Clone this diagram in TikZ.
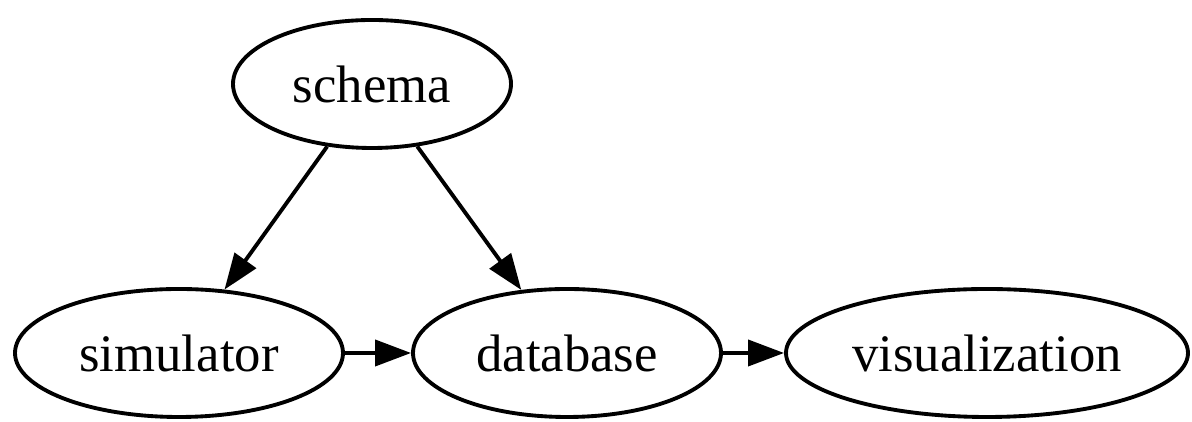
\documentclass[tikz,border=0pt]{standalone}
\usepackage{fontspec}
\setmainfont{Liberation Serif}
\usetikzlibrary{shapes.geometric,arrows.meta}

\tikzset{
    stage/.style={draw,line width=1.1pt,ellipse,inner sep=0pt,minimum height=1.28cm,
        font=\fontsize{15}{18}\selectfont},
    flow/.style={arrows={-Triangle[length=0.36cm,width=0.26cm]},line width=1.1pt}
}

\begin{document}
\begin{tikzpicture}

    \useasboundingbox (0,0) rectangle (11.92,4.22);

    \node[stage,minimum width=2.78cm] (schema) at (3.72,3.38) {schema};
    \node[stage,minimum width=3.28cm] (sim)    at (1.79,0.69) {simulator};
    \node[stage,minimum width=3.08cm] (db)     at (5.67,0.69) {database};
    \node[stage,minimum width=4.02cm] (vis)    at (9.87,0.69) {visualization};

    \draw[flow] (schema) to (sim);
    \draw[flow] (schema) to (db);
    \draw[flow] (sim) to (db);
    \draw[flow] (db) to (vis);

  \end{tikzpicture}
\end{document}
